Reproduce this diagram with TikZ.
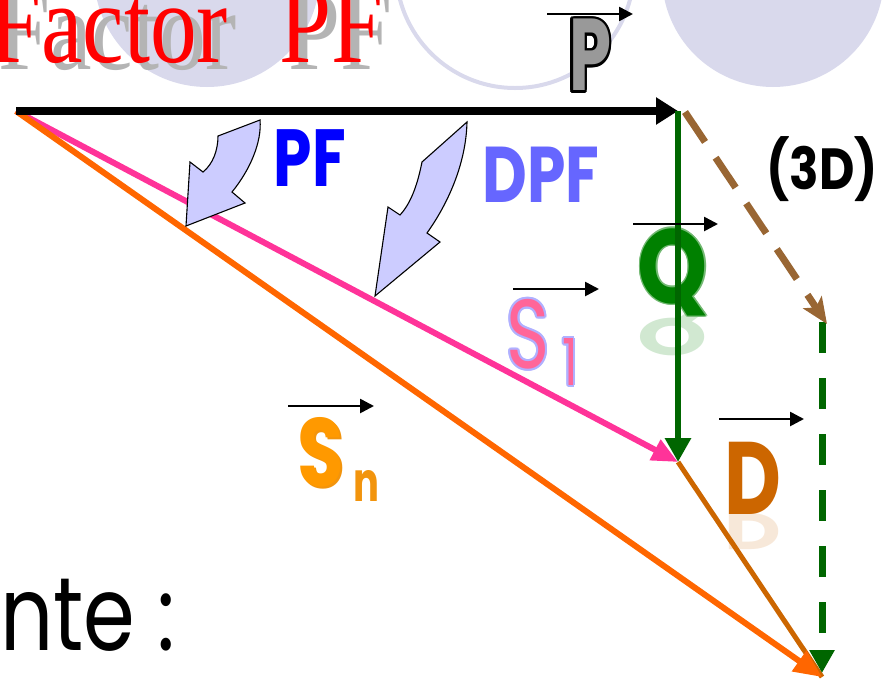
\documentclass[tikz,border=0pt]{standalone}
\usepackage{fontspec}
\setmainfont{Liberation Serif}
\newfontfamily\comic{Poppins}
\usetikzlibrary{arrows.meta}
\definecolor{lav}{RGB}{217,217,236}
\definecolor{shad}{RGB}{180,180,180}
\definecolor{pinkline}{RGB}{255,51,153}
\definecolor{orangeline}{RGB}{255,102,0}
\definecolor{dline}{RGB}{204,102,0}
\definecolor{qgreen}{RGB}{0,102,0}
\definecolor{brownd}{RGB}{153,102,51}
\definecolor{blockfill}{RGB}{204,204,255}
\definecolor{pfblue}{RGB}{0,0,255}
\definecolor{dpfblue}{RGB}{102,102,255}
\definecolor{qtext}{RGB}{0,128,0}
\definecolor{s1pink}{RGB}{255,102,153}
\definecolor{s1edge}{RGB}{176,176,255}
\definecolor{snorange}{RGB}{255,153,0}
\newcommand\lsz[1]{\fontsize{#1}{#1}\selectfont}
\begin{document}
\begin{tikzpicture}[x=1pt,y=-1pt,
  lbl/.style={inner sep=0pt, anchor=center},
  vecmark/.style={line width=2.6pt, -{Triangle[length=14pt,width=14pt]}},
  block/.style={draw=black, line width=1.1pt, fill=blockfill, line join=miter},
]
\useasboundingbox (0,0) rectangle (883,678);
% background circles
\fill[lav] (207,-26) circle (113pt);
\draw[lav, line width=4pt] (515,-31) circle (119pt);
\fill[lav] (773,-24) circle (111pt);
% title
\node[anchor=base west, inner sep=0pt, text=shad, font=\lsz{114}] (titleshadow) at (-2,69) {\scalebox{0.82}[1]{Factor\hspace{0.55em}PF}};
\node[anchor=base west, inner sep=0pt, text=red, font=\lsz{114}] (title) at (-11,62) {\scalebox{0.82}[1]{Factor\hspace{0.55em}PF}};
% vector P label
\foreach \a in {0,30,...,330}
  \node[lbl, text=black, font=\comic\bfseries\lsz{102}] at ([shift={(\a:2.8)}]590,55) {\scalebox{0.66}[1]{P}};
\node[lbl, text=gray!80, font=\comic\bfseries\lsz{102}] (Plabel) at (590,55) {\scalebox{0.66}[1]{P}};
% PF / DPF / 3D
\node[lbl, text=pfblue, font=\comic\bfseries\lsz{81}] (PF) at (310,158) {\scalebox{0.76}[1]{PF}};
\node[lbl, text=dpfblue, font=\comic\bfseries\lsz{79}] (DPF) at (541,175) {\scalebox{0.78}[1]{DPF}};
\node[lbl, text=black, font=\comic\bfseries\lsz{58}] (threeD) at (822,169) {\scalebox{0.84}[1]{(3D)}};
% Q label (under the green line)
\node[lbl, text=qtext, opacity=0.18, font=\comic\bfseries\lsz{105}] (Qrefl) at (673,334) {\scalebox{0.85}[-0.5]{Q}};
\foreach \a in {0,45,...,315}
  \node[lbl, text=qtext!55, font=\comic\bfseries\lsz{105}] at ([shift={(\a:1.5)}]673,272) {\scalebox{0.85}[1]{Q}};
\node[lbl, text=qtext, font=\comic\bfseries\lsz{105}] (Q) at (673,272) {\scalebox{0.85}[1]{Q}};
% S1 label
\foreach \a in {0,30,...,330}
  \node[lbl, text=s1edge, font=\comic\lsz{98}] at ([shift={(\a:2.2)}]528,334) {\scalebox{0.75}[1]{S}};
\node[lbl, text=s1pink, font=\comic\lsz{98}] (S1) at (528,334) {\scalebox{0.75}[1]{S}};
\foreach \a in {0,30,...,330}
  \node[lbl, text=s1edge, font=\comic\lsz{65}] at ([shift={(\a:1.8)}]570,362) {\scalebox{0.75}[1]{1}};
\node[lbl, text=s1pink, font=\comic\lsz{65}] (S1sub) at (570,362) {\scalebox{0.75}[1]{1}};
% Sn label
\node[lbl, text=snorange!80!brown, font=\comic\bfseries\lsz{97}] at (323,454) {\scalebox{0.78}[1]{S}};
\node[lbl, text=snorange, font=\comic\bfseries\lsz{97}] (Sn) at (321,452) {\scalebox{0.78}[1]{S}};
\node[lbl, text=snorange!80!brown, font=\comic\bfseries\lsz{55}] (Snsub) at (366,486) {\scalebox{0.7}[1]{n}};
% D label
\node[lbl, text=dline, opacity=0.15, font=\comic\bfseries\lsz{103}] (Drefl) at (753,532) {\scalebox{0.76}[-0.5]{D}};
\node[lbl, text=dline, font=\comic\bfseries\lsz{103}] (Dl) at (753,478) {\scalebox{0.76}[1]{D}};
% bottom text
\node[anchor=base west, inner sep=0pt, text=black, font=\comic\lsz{104}] (nte) at (0,650) {\scalebox{0.8}[1]{nte :}};
% key points
\coordinate (O) at (16,111);
\coordinate (A) at (678,111);
\coordinate (B) at (678,462);
\coordinate (C) at (822,677);
\coordinate (E) at (685,112);
\coordinate (F) at (827,324);
\coordinate (Fg) at (822,322);
\coordinate (G) at (822,673);
% vectors
\draw[line width=6pt, pinkline, -{Triangle[length=26pt,width=22pt]}] (O) -- (B);
\draw[line width=5pt, dline] (B) -- (C);
\draw[line width=6pt, orangeline, -{Triangle[length=28pt,width=24pt]}] (O) -- (C);
\draw[line width=7pt, qgreen, dash pattern=on 31pt off 25pt, -{Triangle[length=23pt,width=24pt]}] (Fg) -- (G);
\draw[line width=7pt, brownd, dash pattern=on 36pt off 19pt, -{Stealth[length=26pt,width=22pt,inset=6pt]}] (E) -- (F);
\draw[line width=8pt, black, -{Triangle[length=22pt,width=26pt]}] (O) -- (A);
\draw[line width=6.5pt, qgreen, -{Triangle[length=24pt,width=25pt]}] (A) -- (B);
% block arrows
\draw[block] (260,120) -- (218,136) .. controls (218,150) and (213,164) .. (203,172) -- (190,162) -- (186,226) -- (245,203) -- (232,192) .. controls (250,170) and (262,142) .. (260,120) -- cycle;
\draw[block] (467,122) -- (422,162) .. controls (418,182) and (412,202) .. (400,215) -- (388,207) -- (375,296) -- (440,242) -- (427,233) .. controls (447,205) and (466,165) .. (467,122) -- cycle;
% vector marks
\coordinate (p1) at (547,14);  \coordinate (p2) at (633,14);
\coordinate (q1) at (633,224); \coordinate (q2) at (718,224);
\coordinate (s1) at (513,289); \coordinate (s2) at (599,289);
\coordinate (n1) at (288,406); \coordinate (n2) at (374,406);
\coordinate (d1) at (719,419); \coordinate (d2) at (804,419);
\draw[vecmark] (p1) -- (p2);
\draw[vecmark] (q1) -- (q2);
\draw[vecmark] (s1) -- (s2);
\draw[vecmark] (n1) -- (n2);
\draw[vecmark] (d1) -- (d2);
\end{tikzpicture}
\end{document}
